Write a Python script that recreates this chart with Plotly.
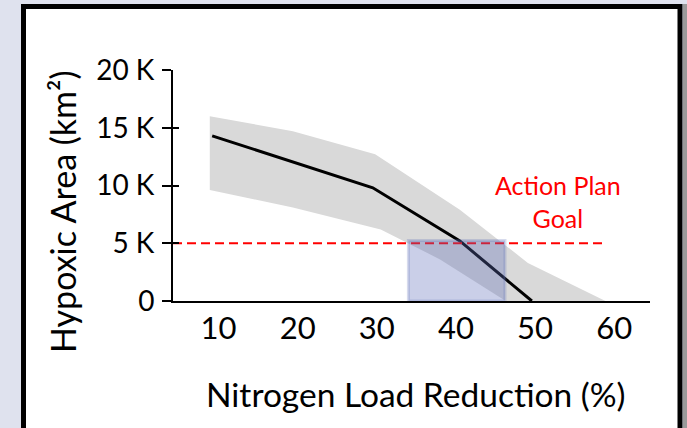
import plotly.graph_objects as go

# ---- data ----
x_mean = [9.2, 29.5, 40.5, 49.6]
y_mean = [14300, 9800, 5200, 0]

x_upper = [8.9, 19.4, 29.8, 40.5, 49.1, 58.9]
y_upper = [16000, 14700, 12700, 7900, 3300, 0]
x_lower = [8.9, 19.4, 30.5, 38.0, 46.3]
y_lower = [9600, 8100, 6200, 3600, 0]

goal_value = 5000
goal_line_x = [4.25, 58.5]

target_x = [34.0, 46.2]
target_y = [0, 5240]

y_tickvals = [0, 5000, 10000, 15000, 20000]
y_ticktext = ["0", "5 K", "10 K", "15 K", "20 K"]
x_tickvals = [10, 20, 30, 40, 50, 60]
x_ticktext = ["10", "20", "30", "40", "50", "60"]

FONT = "Lato"

fig = go.Figure()

# uncertainty band
band_x = x_upper + x_lower[::-1]
band_y = y_upper + y_lower[::-1]
fig.add_trace(go.Scatter(x=band_x, y=band_y, fill="toself", fillcolor="#d9d9d9",
                         line=dict(width=0), mode="lines", hoverinfo="skip", showlegend=False))
# mean line
fig.add_trace(go.Scatter(x=x_mean, y=y_mean, mode="lines", line=dict(color="black", width=3),
                         showlegend=False))
# goal line
fig.add_trace(go.Scatter(x=goal_line_x, y=[goal_value, goal_value], mode="lines",
                         line=dict(color="#ff0000", width=2, dash="9px,5px"), showlegend=False))
# target rectangle
rx = [target_x[0], target_x[1], target_x[1], target_x[0], target_x[0]]
ry = [target_y[0], target_y[0], target_y[1], target_y[1], target_y[0]]
fig.add_trace(go.Scatter(x=rx, y=ry, fill="toself", fillcolor="rgba(95,110,185,0.33)",
                         line=dict(color="rgba(95,110,185,0.25)", width=3), mode="lines",
                         showlegend=False))
# dummy trace for overlay axis (inside ticks)
fig.add_trace(go.Scatter(x=[None], y=[None], yaxis="y2", showlegend=False))

W, H = 687, 428
L, R, T, B = 173, 37, 70, 127
pw, ph = W - L - R, H - T - B

def px_x(p):
    return (p - L) / pw

def px_y(p):
    return (H - B - p) / ph

fig.update_layout(
    width=W, height=H,
    margin=dict(l=L, r=R, t=T, b=B, pad=0),
    paper_bgcolor="#dfe2ee",
    plot_bgcolor="rgba(0,0,0,0)",
    font=dict(family=FONT, color="black"),
    xaxis=dict(range=[4.25, 64.53], tickvals=x_tickvals, ticktext=x_ticktext,
               showgrid=False, zeroline=False, showline=True, linecolor="black", linewidth=2,
               ticks="", tickfont=dict(size=31, family=FONT), ticklabelstandoff=-1),
    yaxis=dict(range=[0, 20000], tickvals=y_tickvals, ticktext=y_ticktext,
               showgrid=False, zeroline=False, showline=True, linecolor="black", linewidth=2,
               ticks="outside", ticklen=9, tickwidth=2, tickcolor="black",
               tickfont=dict(size=28, family=FONT), ticklabelstandoff=2),
    yaxis2=dict(range=[0, 20000], overlaying="y", side="left", tickvals=y_tickvals,
                showticklabels=False, showgrid=False, zeroline=False, showline=False,
                ticks="inside", ticklen=6, tickwidth=2, tickcolor="black"),
    shapes=[
        dict(type="rect", xref="paper", yref="paper", layer="below",
             x0=px_x(683), x1=px_x(690), y0=px_y(445), y1=px_y(4),
             fillcolor="#9a9a9a", line=dict(width=0)),
        dict(type="rect", xref="paper", yref="paper", layer="below",
             x0=px_x(23.5), x1=px_x(680), y0=px_y(445), y1=px_y(6.5),
             fillcolor="white", line=dict(color="black", width=5)),
    ],
    annotations=[
        dict(text="Hypoxic Area (km²)", xref="paper", yref="paper", x=px_x(62), y=px_y(212),
             textangle=-90, showarrow=False, xanchor="center", yanchor="middle",
             font=dict(size=34, family=FONT, color="black")),
        dict(text="Nitrogen Load Reduction (%)", xref="paper", yref="paper",
             x=px_x(415.5), y=px_y(394), showarrow=False, xanchor="center", yanchor="middle",
             font=dict(size=33.5, family=FONT, color="black")),
        dict(text="Action Plan<br>Goal", xref="paper", yref="paper", x=px_x(558), y=px_y(201),
             showarrow=False, xanchor="center", yanchor="middle",
             font=dict(size=25, family=FONT, color="#ff0000")),
    ],
)

fig.write_html("out.html")
